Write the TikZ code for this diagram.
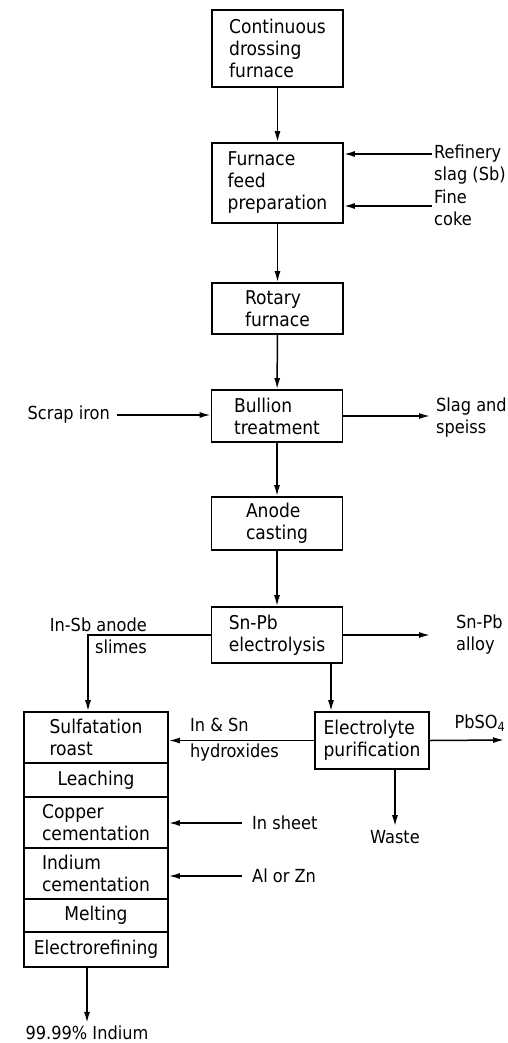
\documentclass[tikz,border=0pt]{standalone}
\usepackage{fontspec}
\setmainfont{DejaVu Sans Condensed}
\usetikzlibrary{arrows.meta}

\begin{document}
\begin{tikzpicture}[x=1pt, y=-1pt, >={Latex[length=11pt,width=6pt]},
  every node/.style={font=\fontsize{19}{22}\selectfont},
  stage/.style={draw, line width=1.8pt, align=left, inner sep=0pt, minimum width=131pt},
  lbl/.style={align=left, inner sep=0pt, font=\fontsize{18}{22}\selectfont},
  flow/.style={->, line width=1.5pt}]
\useasboundingbox (0,0) rectangle (508,1043);
% main line of boxes
\node[stage, minimum height=77pt] (dross) at (277.5,48.5) {Continuous\\drossing\\furnace};
\node[stage, minimum height=80pt] (feed) at (277.5,183) {Furnace\\feed\\preparation};
\node[stage, minimum height=51pt] (rot) at (277.5,308.5) {Rotary\\furnace};
\node[stage, minimum height=52pt] (bull) at (277,416) {Bullion\\treatment};
\node[stage, minimum height=53pt] (anode) at (277,523.5) {Anode\\casting};
\node[stage, minimum height=56pt] (snpb) at (277,635) {Sn-Pb\\electrolysis};
\node[stage, minimum width=114pt, minimum height=57pt] (elec) at (372,740.5) {Electrolyte\\purification};
% indium column
\foreach \nm/\yc/\hh/\txt in {sulf/737.5/51/{Sulfatation\\roast}, leach/780/34/Leaching,
    copper/822.5/51/{Copper\\cementation}, indium/873.5/51/{Indium\\cementation},
    melt/915.5/33/Melting, eref/949.5/35/Electrorefining}
  \node[stage, minimum width=144pt, minimum height=\hh pt] (\nm) at (96,\yc) {\txt};

\foreach \a/\b in {dross/feed, feed/rot, rot/bull, bull/anode, anode/snpb}
  \draw[flow] (\a) -- (\b);

% feeds and products
\coordinate (rs) at (432,154);
\coordinate (fc) at (432,206);
\node[lbl, anchor=west] (refslag) at (434,165) {Refinery\\slag (Sb)};
\node[lbl, anchor=west] (coke) at (434,207.5) {Fine\\coke};
\draw[flow] (rs) -- (rs -| feed.east);
\draw[flow] (fc) -- (fc -| feed.east);

\node[lbl, anchor=east] (scrap) at (110,415) {Scrap iron};
\draw[flow, shorten <=7pt] (scrap.east) -- (bull.west |- scrap.east);
\node[lbl, anchor=west] (slag) at (436,418) {Slag and\\speiss};
\draw[flow, shorten >=6pt] (bull.east) -- (slag.west |- bull.east);

\node[lbl, anchor=west] (alloy) at (456,634.5) {Sn-Pb\\alloy};
\draw[flow, shorten >=26pt] (snpb.east) -- (alloy.west |- snpb.east);
\node[lbl, align=right, anchor=east] (slimes) at (147,635.5) {In-Sb anode\\slimes};
\coordinate (colx) at (88,0);
\draw[flow] (snpb.west) -| (colx |- sulf.north);
\coordinate (ex) at (331,0);
\draw[flow] (ex |- snpb.south) -- (ex |- elec.north);

\node[lbl, anchor=west] (insn) at (190,725) {In \& Sn};
\node[lbl, anchor=west] (hydrox) at (190,753) {hydroxides};
\draw[flow] (elec.west) -- (elec.west -| sulf.east);
\node[lbl] (pbso) at (480,723) {PbSO\textsubscript{4}};
\coordinate (pbend) at (504,740);
\draw[flow] (elec.east) -- (pbend);
\node[lbl] (waste) at (395,837) {Waste};
\draw[flow, shorten >=4pt] (elec.south -| waste.north) -- (waste.north);

\node[lbl, anchor=west] (insheet) at (252,823) {In sheet};
\draw[flow, shorten <=10pt] (insheet.west) -- (insheet.west -| copper.east);
\node[lbl, anchor=west] (alzn) at (252,876) {Al or Zn};
\draw[flow, shorten <=10pt] (alzn.west) -- (alzn.west -| indium.east);

\node[lbl] (pure) at (87,1033) {99.99\% Indium};
\draw[flow, shorten >=3pt] (eref.south -| pure.north) -- (pure.north);
\end{tikzpicture}
\end{document}
